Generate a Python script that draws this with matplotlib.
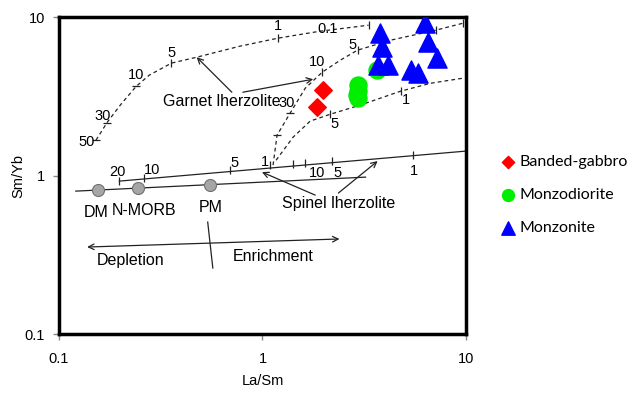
import numpy as np
import matplotlib.pyplot as plt

# samples
gabbro_x = [1.99, 1.86]
gabbro_y = [3.46, 2.71]
diorite_x = [2.93, 2.93, 2.93, 2.90, 3.67]
diorite_y = [3.72, 3.40, 3.08, 3.25, 4.63]
monzonite_x = [3.80, 3.88, 3.71, 4.16, 6.32, 6.48, 7.24, 5.34, 5.84]
monzonite_y = [7.93, 6.47, 4.98, 4.98, 9.17, 6.96, 5.51, 4.63, 4.43]

# mantle sources
src_names = ['DM', 'N-MORB', 'PM']
src_x = [0.156, 0.245, 0.551]
src_y = [0.816, 0.834, 0.871]
src_lab_x = [0.153, 0.262, 0.556]
src_lab_y = [0.589, 0.606, 0.633]

# garnet lherzolite melting curves (dashed)
grt1_x = [0.152, 0.173, 0.202, 0.240, 0.278, 0.357, 0.475, 0.774, 1.19, 1.92, 3.32]
grt1_y = [1.675, 2.18, 2.83, 3.67, 4.31, 5.13, 5.59, 6.56, 7.37, 8.16, 8.90]
grt2_x = [1.127, 1.179, 1.367, 1.622, 1.967, 2.41, 2.93, 4.26, 7.11, 9.66]
grt2_y = [1.165, 1.80, 2.48, 3.56, 4.50, 5.35, 6.19, 7.16, 8.28, 9.16]
grt3_x = [1.166, 1.415, 1.717, 2.154, 3.03, 4.77, 6.71, 9.66]
grt3_y = [1.25, 1.75, 2.21, 2.44, 2.79, 3.41, 3.83, 4.12]

# spinel lherzolite melting lines (solid)
spl1_x = [0.121, 3.21]
spl1_y = [0.798, 0.978]
spl2_x = [0.198, 10.0]
spl2_y = [0.923, 1.428]

# melt fraction ticks on the curves
tick_x = [0.152, 0.173, 0.240, 0.357, 1.19, 3.32,
          1.179, 1.367, 1.967, 2.93, 7.11, 9.66,
          2.154, 4.77,
          0.198, 0.263, 0.691, 1.089, 1.414, 1.62, 2.20, 5.47]
tick_y = [1.68, 2.14, 3.67, 5.13, 7.37, 8.90,
          1.80, 2.48, 4.50, 6.19, 8.28, 9.16,
          2.44, 3.41,
          0.923, 0.964, 1.083, 1.165, 1.18, 1.197, 1.235, 1.353]
tick_steep = [True, True, True, False, False, False,
              True, True, False, False, False, False,
              False, False,
              False, False, False, False, False, False, False, False]

# melt fraction labels
lab_text = ['50', '30', '10', '5', '1', '0.1',
            '30', '10', '5',
            '5', '1',
            '20', '10', '5', '1',
            '10', '5', '1']
lab_x = [0.136, 0.163, 0.240, 0.357, 1.19, 2.08,
         1.32, 1.86, 2.77,
         2.25, 5.05,
         0.193, 0.288, 0.732, 1.03,
         1.86, 2.33, 5.53]
lab_y = [1.63, 2.37, 4.31, 5.93, 8.77, 8.40,
         2.87, 5.20, 6.66,
         2.11, 2.99,
         1.05, 1.083, 1.199, 1.217,
         1.037, 1.037, 1.068]

FONT = 'Liberation Sans'

fig = plt.figure(figsize=(6.44, 3.98), dpi=100)
ax = fig.add_axes([0.0916, 0.1608, 0.632, 0.796])
ax.set_xscale('log')
ax.set_yscale('log')
ax.set_xlim(0.1, 10)
ax.set_ylim(0.1, 10)

for cx, cy in [(grt1_x, grt1_y), (grt2_x, grt2_y), (grt3_x, grt3_y)]:
    ax.plot(cx, cy, '--', color='#222222', lw=0.9, dashes=(3, 2.5))
ax.plot(spl1_x, spl1_y, '-', color='#222222', lw=0.9)
ax.plot(spl2_x, spl2_y, '-', color='#222222', lw=0.9)

for tx, ty, st in zip(tick_x, tick_y, tick_steep):
    ax.plot(tx, ty, marker='_' if st else '|', ms=6, mew=0.9, color='#222222')

for t, lx, ly in zip(lab_text, lab_x, lab_y):
    ax.text(lx, ly, t, fontsize=10.5, ha='center', va='center', family=FONT)

ax.scatter(src_x, src_y, s=75, color='#a6a6a6', edgecolors='#707070', lw=0.8, zorder=3)
for n, sx, sy in zip(src_names, src_lab_x, src_lab_y):
    ax.text(sx, sy, n, fontsize=11.5, ha='center', va='center', family=FONT)

arrow = dict(arrowstyle='->', color='#222222', lw=0.9, shrinkA=0, shrinkB=0)
ax.text(0.631, 2.95, 'Garnet lherzolite', fontsize=11.5, ha='center', va='center', family=FONT)
ax.annotate('', xy=(0.475, 5.59), xytext=(0.707, 3.36), arrowprops=arrow)
ax.annotate('', xy=(1.775, 4.06), xytext=(0.801, 3.36), arrowprops=arrow)
ax.text(2.36, 0.671, 'Spinel lherzolite', fontsize=11.5, ha='center', va='center', family=FONT)
ax.annotate('', xy=(0.994, 1.052), xytext=(1.816, 0.753), arrowprops=arrow)
ax.annotate('', xy=(3.68, 1.235), xytext=(2.36, 0.776), arrowprops=arrow)

ax.annotate('', xy=(0.1375, 0.354), xytext=(2.39, 0.398),
            arrowprops=dict(arrowstyle='<->', color='#222222', lw=0.9, shrinkA=0, shrinkB=0))
ax.plot([0.538, 0.570], [0.509, 0.261], '-', color='#222222', lw=0.9)
ax.text(0.225, 0.289, 'Depletion', fontsize=11.5, ha='center', va='center', family=FONT)
ax.text(1.127, 0.310, 'Enrichment', fontsize=11.5, ha='center', va='center', family=FONT)

ax.scatter(gabbro_x, gabbro_y, marker='D', s=80, color='#ff0000', zorder=4, label='Banded-gabbro')
ax.scatter(diorite_x, diorite_y, marker='o', s=150, color='#00ee00', zorder=4, label='Monzodiorite')
ax.scatter(monzonite_x, monzonite_y, marker='^', s=190, color='#0000ff', zorder=5, label='Monzonite')

for sp in ax.spines.values():
    sp.set_linewidth(2.5)
    sp.set_color('black')
ax.minorticks_off()
ax.set_xticks([0.1, 1, 10])
ax.set_xticklabels(['0.1', '1', '10'])
ax.set_yticks([0.1, 1, 10])
ax.set_yticklabels(['0.1', '1', '10'])
ax.tick_params(length=4, width=1, color='#888888', labelsize=10.5, pad=6)
ax.tick_params(axis='x', pad=9)
for lbl in ax.get_xticklabels() + ax.get_yticklabels():
    lbl.set_family(FONT)
ax.set_xlabel('La/Sm', fontsize=10.5, family=FONT, labelpad=6)
ax.set_ylabel('Sm/Yb', fontsize=10.5, family=FONT)
ax.yaxis.set_label_coords(-0.083, 0.5)

leg = ax.legend(loc='center left', bbox_to_anchor=(484 / 644, 1 - 195 / 398),
                bbox_transform=fig.transFigure, frameon=False, handletextpad=0.1,
                handlelength=1.2, labelspacing=1.2, prop={'family': 'Lato', 'size': 11.5},
                markerscale=0.7)

fig.savefig('out.png', dpi=100)
